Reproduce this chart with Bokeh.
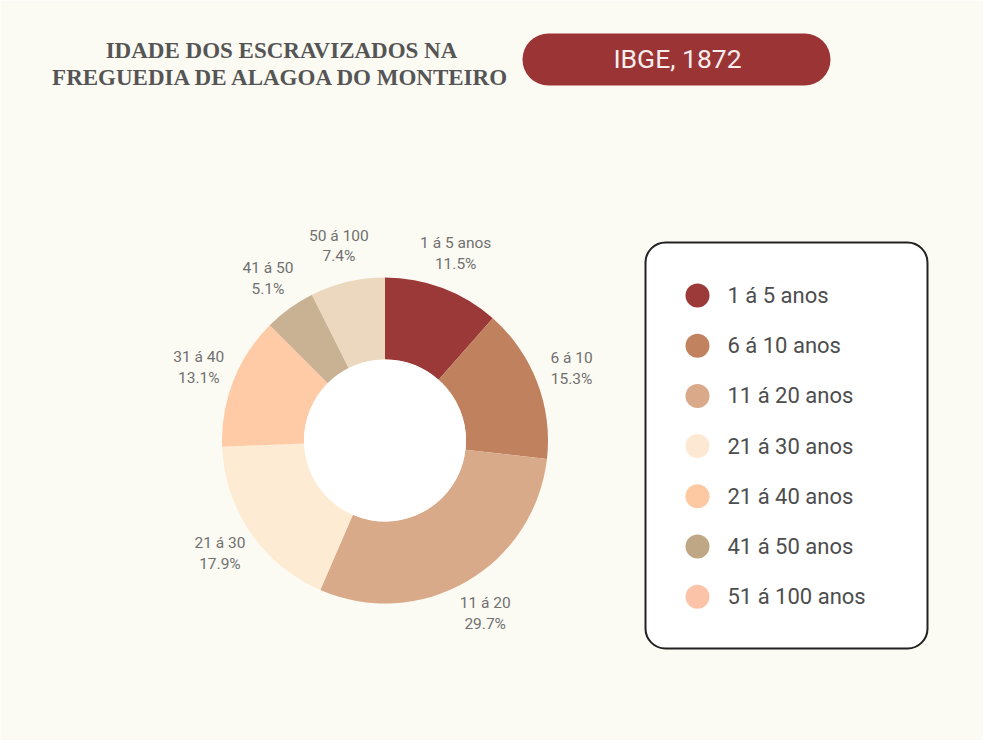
import math
from bokeh.plotting import figure
from bokeh.models import Range1d, BoxAnnotation, ColumnDataSource
from bokeh.core.properties import value
from bokeh.embed import file_html
from bokeh.resources import INLINE

# ---------------- data ----------------
slice_labels = ["1 á 5 anos", "6 á 10", "11 á 20", "21 á 30", "31 á 40", "41 á 50", "50 á 100"]
slice_pcts = [11.5, 15.3, 29.7, 17.9, 13.1, 5.1, 7.4]
slice_colors = ["#9B3838", "#C0815F", "#D9AA8A", "#FDEBD3", "#FECBA6", "#C9B293", "#EBD8BE"]

legend_labels = ["1 á 5 anos", "6 á 10 anos", "11 á 20 anos", "21 á 30 anos",
                 "21 á 40 anos", "41 á 50 anos", "51 á 100 anos"]
legend_colors = ["#9C3A3A", "#C0825F", "#D9A98A", "#FDE9D3", "#FDC9A2", "#BFA785", "#FBC3A8"]

title_lines = ["IDADE DOS ESCRAVIZADOS NA", "FREGUEDIA DE ALAGOA DO MONTEIRO"]
badge_text = "IBGE, 1872"

# ---------------- layout ----------------
W, H = 983, 740
BG = "#FCFBF3"


def Y(img_y):
    # convert an image-space y (downwards) into data-space y (upwards)
    return H - img_y


p = figure(width=W, height=H, output_backend="svg", toolbar_location=None,
           x_range=Range1d(0, W), y_range=Range1d(0, H),
           x_axis_location=None, y_axis_location=None, min_border=0)
p.grid.visible = False
p.outline_line_color = None
p.background_fill_color = BG
p.border_fill_color = BG

# title
p.text(x=[281, 281], y=[Y(50), Y(77)], text=title_lines,
       text_font=value("Liberation Serif"), text_font_style="bold",
       text_font_size="23px", text_color="#555555",
       text_align="center", text_baseline="alphabetic")

# badge
p.add_layout(BoxAnnotation(left=522, right=830, top=Y(33), bottom=Y(85),
                           border_radius=26, fill_color="#9B3535", fill_alpha=1.0,
                           line_color=None, level="underlay"))
p.text(x=[677], y=[Y(58)], text=[badge_text], text_font=value("Roboto"),
       text_font_size="26.5px", text_color="#F8EEEE",
       text_align="center", text_baseline="middle")

# donut
cx, cy = 384.5, Y(440)
r_out, r_in, r_lab = 163, 81, 200
starts, ends, lx, ly, ltxt = [], [], [], [], []
cum = 0.0
for lab, pct in zip(slice_labels, slice_pcts):
    a0 = math.radians(90 - cum * 3.6)
    a1 = math.radians(90 - (cum + pct) * 3.6)
    starts.append(a1)
    ends.append(a0)
    mid = (a0 + a1) / 2
    lx.append(cx + r_lab * math.cos(mid))
    ly.append(cy + r_lab * math.sin(mid))
    ltxt.append(f"{lab}\n{pct:.1f}%")
    cum += pct

src = ColumnDataSource(dict(start=starts, end=ends, color=slice_colors))
p.annular_wedge(x=cx, y=cy, inner_radius=r_in, outer_radius=r_out,
                inner_radius_units="screen", outer_radius_units="screen",
                start_angle="start", end_angle="end", fill_color="color",
                line_color=None, source=src)
p.circle(x=[cx], y=[cy], radius=r_in, radius_units="screen",
         fill_color="white", line_color=None)
p.text(x=lx, y=ly, text=ltxt, text_font=value("Roboto"), text_font_size="15.5px",
       text_color="#707070", text_align="center", text_baseline="middle",
       text_line_height=1.15)

# legend box
p.add_layout(BoxAnnotation(left=645, right=927, top=Y(242), bottom=Y(648),
                           border_radius=20, fill_color="white", fill_alpha=1.0,
                           line_color="#222222", line_alpha=1.0, line_width=2,
                           level="underlay"))
row_y = [Y(295 + i * 50.2) for i in range(len(legend_labels))]
p.scatter(x=[697] * len(legend_labels), y=row_y, size=24, marker="circle",
          fill_color=legend_colors, line_color=None)
p.text(x=[727] * len(legend_labels), y=row_y, text=legend_labels,
       text_font=value("Roboto"), text_font_size="22px", text_color="#4D4D4D",
       text_align="left", text_baseline="middle")

open("out.html", "w").write(file_html(p, INLINE))
